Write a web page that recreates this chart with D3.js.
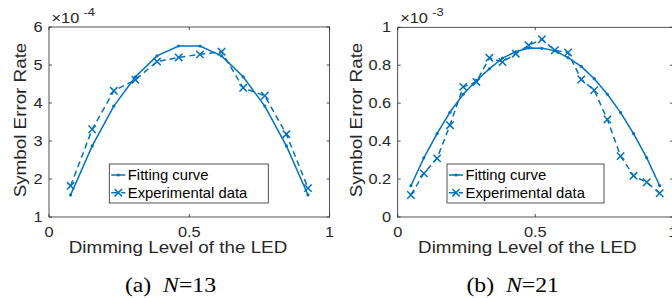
<!DOCTYPE html>
<html><head><meta charset="utf-8">
<script src="https://cdn.jsdelivr.net/npm/d3@7"></script>
<style>html,body{margin:0;padding:0;background:#fff;}svg{display:block;}</style>
</head><body>
<svg id="c" width="672" height="298"></svg>
<script>
// ---- data ----
const xA = [0.077,0.154,0.231,0.308,0.385,0.462,0.538,0.615,0.692,0.769,0.846,0.923];
const fitA = [1.58,2.87,3.92,4.69,5.24,5.50,5.50,5.24,4.69,3.92,2.87,1.58];
const expA = [1.82,3.31,4.32,4.61,5.09,5.20,5.28,5.35,4.40,4.19,3.18,1.76];

const xB = [0.048,0.095,0.143,0.190,0.238,0.286,0.333,0.381,0.429,0.476,0.524,0.571,0.619,0.667,0.714,0.762,0.810,0.857,0.905,0.952];
const fitB = [0.165,0.312,0.440,0.552,0.647,0.720,0.781,0.838,0.871,0.891,0.889,0.877,0.840,0.794,0.729,0.647,0.550,0.440,0.312,0.165];
const expB = [0.116,0.230,0.309,0.484,0.686,0.712,0.839,0.817,0.861,0.905,0.937,0.879,0.867,0.725,0.668,0.514,0.321,0.217,0.183,0.125];

const xTicks = [0, 0.5, 1];
const yTicksA = [1,2,3,4,5,6];
const yTicksB = [0,0.2,0.4,0.6,0.8,1];
const seriesNames = ["Fitting curve","Experimental data"];
const xLabel = "Dimming Level of the LED";
const yLabel = "Symbol Error Rate";

const blue = "#0072BD";
const axisCol = "#262626";
const svg = d3.select("#c");
const SANS = "'Liberation Sans', Arial, Helvetica, sans-serif";

function stext(g, x, y, str, opts) {
  const sx = opts.sx || 1, rot = opts.rot || 0;
  return g.append("text")
    .attr("transform", `translate(${x},${y})` + (rot ? ` rotate(${rot})` : "") + ` scale(${sx},1)`)
    .attr("font-family", opts.family || SANS)
    .attr("font-size", opts.size)
    .attr("text-anchor", opts.anchor || "start")
    .attr("fill", opts.fill || axisCol)
    .text(str);
}

function panel(p) {
  const g = svg.append("g");
  const x = d3.scaleLinear().domain([0,1]).range([p.x0, p.x1]);
  const y = d3.scaleLinear().domain(p.ydom).range([217, p.y1]);
  g.append("rect").attr("x", p.x0).attr("y", p.y1).attr("width", p.x1-p.x0).attr("height", 217-p.y1)
    .attr("fill","none").attr("stroke", axisCol).attr("stroke-width", 0.8);
  const tl = 3;
  xTicks.forEach(t => {
    g.append("line").attr("x1", x(t)).attr("x2", x(t)).attr("y1", 217).attr("y2", 217-tl).attr("stroke", axisCol).attr("stroke-width",0.8);
    g.append("line").attr("x1", x(t)).attr("x2", x(t)).attr("y1", p.y1).attr("y2", p.y1+tl).attr("stroke", axisCol).attr("stroke-width",0.8);
    stext(g, x(t), 236.7, String(t), {size: 14, sx: 1.17, anchor: "middle"});
  });
  p.yticks.forEach(t => {
    g.append("line").attr("x1", p.x0).attr("x2", p.x0+tl).attr("y1", y(t)).attr("y2", y(t)).attr("stroke", axisCol).attr("stroke-width",0.8);
    g.append("line").attr("x1", p.x1).attr("x2", p.x1-tl).attr("y1", y(t)).attr("y2", y(t)).attr("stroke", axisCol).attr("stroke-width",0.8);
    stext(g, p.x0-6.5, y(t)+5, String(t), {size: 14, sx: 1.17, anchor: "end"});
  });
  stext(g, p.x0+2.5, 23.3, "\u00d710", {size: 14, sx: 1.17});
  stext(g, p.x0+34.5, 15.5, p.exp, {size: 11, sx: 1.17});
  stext(g, p.xlabC, 252.5, xLabel, {size: 16.5, sx: 1.14, anchor: "middle"});
  stext(g, p.ylabX, 120, yLabel, {size: 16.5, sx: 1.14, anchor: "middle", rot: -90});
  const cap = g.append("text").attr("transform", `translate(${p.capC},292) scale(1.08,1)`).attr("text-anchor","middle")
    .attr("font-family","'Liberation Serif','Times New Roman',serif").attr("font-size", 22).attr("fill","#000");
  cap.append("tspan").text(p.capL + "\u2002");
  cap.append("tspan").attr("font-style","italic").text("N");
  cap.append("tspan").text("=" + p.capN);

  const line = d3.line().x(d => x(d[0])).y(d => y(d[1]));
  const fit = p.xs.map((v,i) => [v, p.fit[i]]);
  const exp = p.xs.map((v,i) => [v, p.exp2[i]]);
  g.append("path").attr("d", line(exp)).attr("fill","none").attr("stroke", blue).attr("stroke-width",1.5).attr("stroke-dasharray","6,4");
  g.append("path").attr("d", line(fit)).attr("fill","none").attr("stroke", blue).attr("stroke-width",1.5);
  g.selectAll(null).data(fit).enter().append("circle").attr("cx", d=>x(d[0])).attr("cy", d=>y(d[1])).attr("r",1.6).attr("fill",blue);
  const m = 3.7;
  g.selectAll(null).data(exp).enter().append("path")
    .attr("d", d => { const cx=x(d[0]), cy=y(d[1]); return `M${cx-m},${cy-m}L${cx+m},${cy+m}M${cx-m},${cy+m}L${cx+m},${cy-m}`; })
    .attr("stroke", blue).attr("stroke-width",1.5).attr("fill","none");

  const lx = p.legX, ly = 164;
  g.append("rect").attr("x", lx).attr("y", ly).attr("width", p.legW).attr("height", 39)
    .attr("fill","#fff").attr("stroke", axisCol).attr("stroke-width",0.8);
  const r1 = ly+11, r2 = ly+28.7;
  g.append("line").attr("x1", lx+2).attr("x2", lx+16).attr("y1", r1).attr("y2", r1).attr("stroke", blue).attr("stroke-width",1.5);
  g.append("circle").attr("cx", lx+9).attr("cy", r1).attr("r",1.6).attr("fill",blue);
  g.append("line").attr("x1", lx+2).attr("x2", lx+16).attr("y1", r2).attr("y2", r2).attr("stroke", blue).attr("stroke-width",1.5).attr("stroke-dasharray","6,4");
  g.append("path").attr("d", `M${lx+9-m},${r2-m}L${lx+9+m},${r2+m}M${lx+9-m},${r2+m}L${lx+9+m},${r2-m}`).attr("stroke", blue).attr("stroke-width",1.5);
  stext(g, lx+18.5, r1+5, seriesNames[0], {size: 14, sx: 1.06, fill: "#000"});
  stext(g, lx+18.5, r2+5, seriesNames[1], {size: 14, sx: 1.06, fill: "#000"});
}

panel({x0: 49, x1: 329.6, y1: 27, ydom: [1,6], yticks: yTicksA, exp: "-4", ylabX: 25.5,
  xs: xA, fit: fitA, exp2: expA, xlabC: 178, capC: 170.5, capL: "(a)", capN: "13", legX: 109.3, legW: 159});
panel({x0: 397.7, x1: 672.9, y1: 27.3, ydom: [0,1], yticks: yTicksB, exp: "-3", ylabX: 361.5,
  xs: xB, fit: fitB, exp2: expB, xlabC: 527.3, capC: 512.7, capL: "(b)", capN: "21", legX: 447, legW: 157});
</script>
</body></html>
